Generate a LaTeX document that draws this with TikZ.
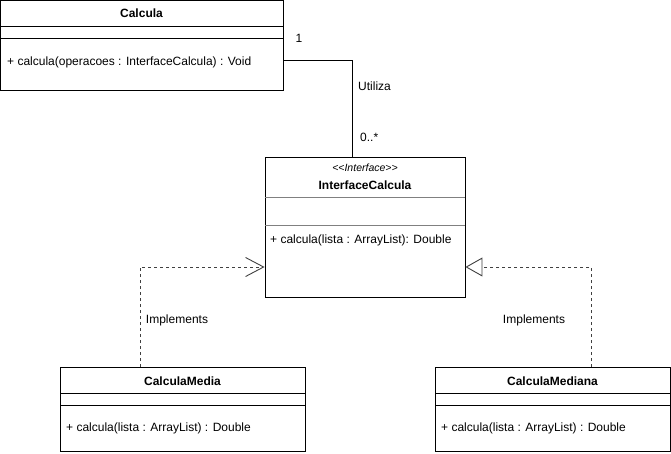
\documentclass[tikz,border=0pt]{standalone}
\usepackage{fontspec}
\setmainfont{Liberation Sans}
\usetikzlibrary{arrows.meta,calc}

\begin{document}
\begin{tikzpicture}[x=1pt, y=-1pt,
  classbox/.style={draw=black, line width=0.9pt, rectangle, inner sep=0pt, fill=white},
  divider/.style={draw=black, line width=0.9pt},
  softdivider/.style={draw=black!50, line width=0.9pt},
  title/.style={font=\fontsize{12}{14}\selectfont\bfseries, inner sep=0pt},
  member/.style={font=\fontsize{12}{14}\selectfont, anchor=west, inner sep=0pt},
  label/.style={font=\fontsize{12}{14}\selectfont, inner sep=0pt},
  realizes/.style={draw=black!75, line width=0.9pt, dash pattern=on 3pt off 3pt}]
\useasboundingbox (0,0) rectangle (671,453);

% classes
\node [classbox, minimum width=283, minimum height=90] (calcula) at (141.5,45) {};
\node [title] (calculaname) at (141.5,13) {Calcula};
\draw [divider] (0,26) -- (283,26) (0,38) -- (283,38);
\node [member] (calculaop) at (7,62) {+ calcula(operacoes : InterfaceCalcula) : Void};

\node [classbox, minimum width=200, minimum height=140] (interface) at (365,227) {};
\node [font=\fontsize{10.5}{12}\selectfont\itshape, inner sep=0pt] (stereo) at (365,168) {{<}{<}Interface{>}{>}};
\node [title] (interfacename) at (365,185) {InterfaceCalcula};
\draw [softdivider] (265,197) -- (465,197) (265,225) -- (465,225);
\node [member] (interfaceop) at (270,240) {+ calcula(lista : ArrayList): Double};

\node [classbox, minimum width=245, minimum height=84] (media) at (182.5,409) {};
\node [title] (medianame) at (182.5,381) {CalculaMedia};
\draw [divider] (60,393) -- (305,393) (60,405) -- (305,405);
\node [member] (mediaop) at (66,428) {+ calcula(lista : ArrayList) : Double};

\node [classbox, minimum width=235, minimum height=84] (mediana) at (552.5,409) {};
\node [title] (mediananame) at (552.5,381) {CalculaMediana};
\draw [divider] (435,393) -- (670,393) (435,405) -- (670,405);
\node [member] (medianaop) at (441,428) {+ calcula(lista : ArrayList) : Double};

% association
\coordinate (usesstart) at (283,60);
\coordinate (usesend) at ($(interface.north)+(-13,0)$);
\draw [line width=0.9pt] (usesstart) -| (usesend);
\node [label] (one) at (299,38) {1};
\node [label, anchor=west] (utiliza) at (358,86) {Utiliza};
\node [label, anchor=west] (many) at (360,137) {0..*};

% realizations
\coordinate (mediatop) at (140,367);
\coordinate (medianatop) at (591,367);
\draw [realizes, -{Straight Barb[length=18pt, width=19pt, line width=0.9pt]}]
  (mediatop) |- (interface.west |- 0,267);
\draw [realizes, -{Triangle[open, length=17pt, width=19pt, line width=0.9pt, fill=white]}]
  (medianatop) |- (interface.east |- 0,267);
\node [label] (implleft) at (177,320) {Implements};
\node [label] (implright) at (534,320) {Implements};
\end{tikzpicture}
\end{document}
